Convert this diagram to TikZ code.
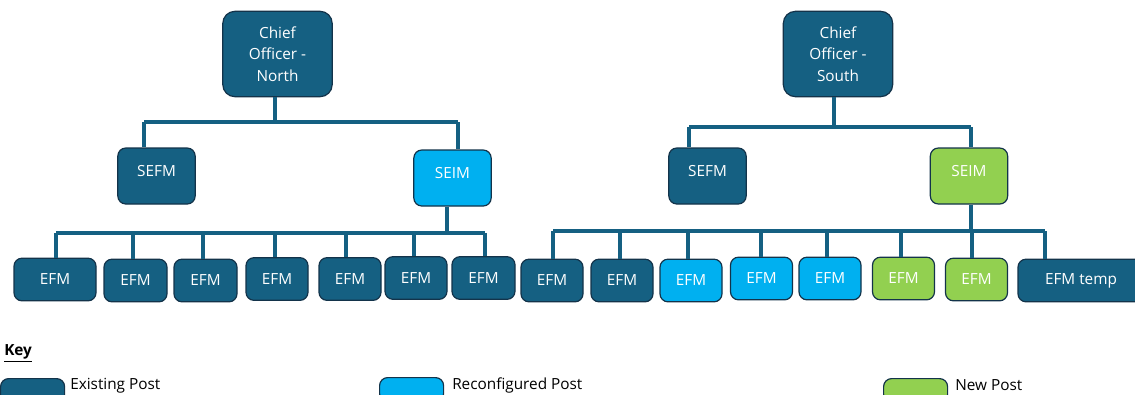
\documentclass[tikz,border=0pt]{standalone}
\usepackage{fontspec}
\setmainfont{Open Sans}
\usetikzlibrary{positioning}

\definecolor{existing}{HTML}{156082}
\definecolor{reconf}{HTML}{00B0F0}
\definecolor{newpost}{HTML}{92D050}
\definecolor{edge}{HTML}{13334A}

\tikzset{
  post/.style={draw=edge, line width=0.9pt, rounded corners=6pt, fill=existing,
               text=white, inner sep=0pt, align=center,
               font=\fontsize{11.5}{16}\selectfont},
  head/.style={post, minimum width=82pt, minimum height=64pt, rounded corners=9pt},
  senior/.style={post, minimum width=58pt, minimum height=42pt, text depth=7.5pt},
  efm/.style={post, minimum height=32pt},
  link/.style={draw=existing, line width=2.3pt},
  keytext/.style={anchor=west, inner sep=0pt, font=\fontsize{11.5}{13}\selectfont}
}

\begin{document}
\begin{tikzpicture}[x=0.75pt, y=-0.75pt]
  \useasboundingbox (0,0) rectangle (1135,394);

  % Chief officers
  \node[head] (coN) at (277.5,54) {Chief\\Officer -\\North};
  \node[head] (coS) at (838,54) {Chief\\Officer -\\South};

  % Senior managers
  \node[senior] (sefmN) at (156.5,176) {SEFM};
  \node[senior, fill=reconf] (seimN) at (452.5,178) {SEIM};
  \node[senior] (sefmS) at (707.5,176) {SEFM};
  \node[senior, fill=newpost] (seimS) at (969,176) {SEIM};

  % North team
  \foreach \n/\x/\y/\w in {1/55/279.5/82, 2/135.5/280.5/63, 3/205.5/280.5/63,
                           4/277/279/62, 5/350/279/62, 6/416/278/62, 7/483.5/278/63}
    \node[efm, minimum width=\w*0.75pt] (efmN\n) at (\x,\y) {EFM};

  % South team
  \foreach \n/\x/\y/\c in {1/552/280.5/existing, 2/622/280.5/existing,
                           3/691/280.5/reconf, 4/761.5/278.5/reconf,
                           5/830/278.5/reconf, 6/903.5/278.5/newpost,
                           7/976.5/279.5/newpost}
    \node[efm, minimum width=46.5pt, fill=\c] (efmS\n) at (\x,\y) {EFM};
  \node[efm, minimum width=94.5pt] (efmS8) at (1081,280.5) {EFM temp};

  % North links
  \draw[link] (coN.south -| 275,0) -- (275,122);
  \draw[link] (144,122) -- (458,122);
  \draw[link] (144,122) -- (144,122 |- sefmN.north);
  \draw[link] (458,122) -- (458,122 |- seimN.north);
  \draw[link] (seimN.south -| 447,0) -- (447,233);
  \draw[link] (56,233) -- (485,233);
  \foreach \n/\x in {1/56, 2/133, 3/203, 4/275, 5/346, 6/414, 7/485}
    \draw[link] (\x,233) -- (\x,233 |- efmN\n.north);

  % South links
  \draw[link] (coS.south -| 834,0) -- (834,127);
  \draw[link] (689,127) -- (971,127);
  \draw[link] (689,127) -- (689,127 |- sefmS.north);
  \draw[link] (971,127) -- (971,127 |- seimS.north);
  \draw[link] (seimS.south -| 971,0) -- (971,231);
  \draw[link] (553,231) -- (1045,231);
  \foreach \n/\x in {1/553, 2/620, 3/688, 4/761, 5/827, 6/901, 7/972, 8/1045}
    \draw[link] (\x,231) -- (\x,231 |- efmS\n.north);

  % Key
  \node[keytext, font=\fontsize{11.5}{13}\bfseries] (key) at (4,353) {\underline{Key}};
  \node[post, minimum width=48pt, minimum height=18pt, anchor=north west] (kex) at (0,378) {};
  \node[keytext] at (70,385.5) {Existing Post};
  \node[post, fill=reconf, minimum width=48pt, minimum height=18pt, anchor=north west] (krc) at (379,377) {};
  \node[keytext] at (452,385.5) {Reconfigured Post};
  \node[post, fill=newpost, minimum width=48pt, minimum height=18pt, anchor=north west] (knw) at (883,378) {};
  \node[keytext] at (955,385.5) {New Post};
\end{tikzpicture}
\end{document}
